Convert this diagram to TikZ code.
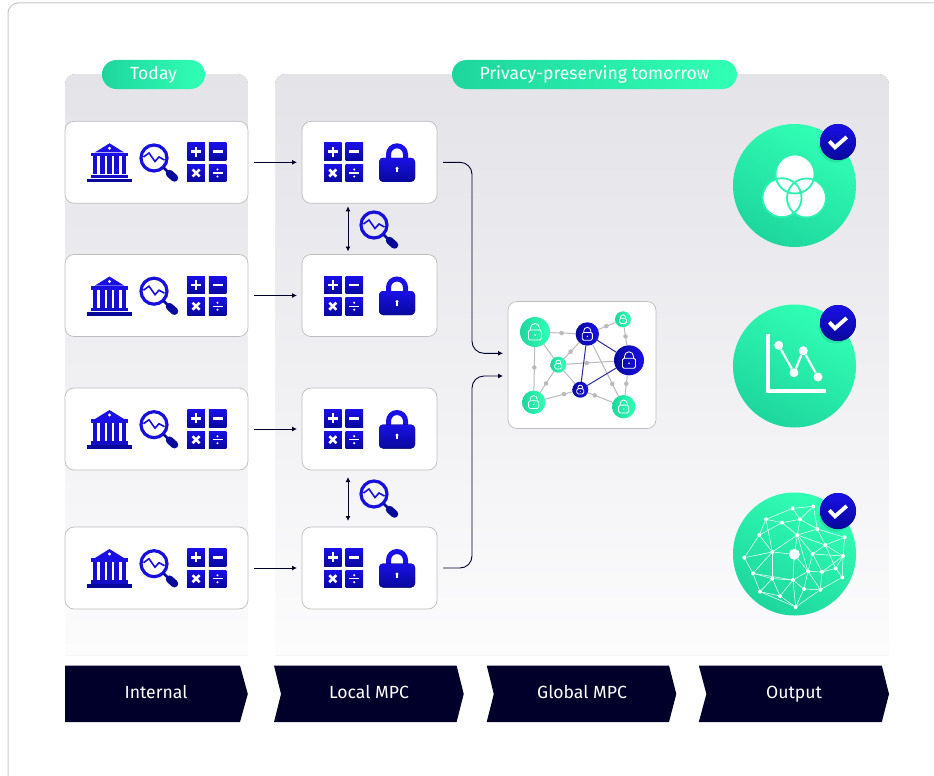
\documentclass[tikz,border=0pt]{standalone}
\usepackage{fontspec}
\setmainfont{Fira Sans}
\usetikzlibrary{arrows.meta}
\definecolor{panelgray}{HTML}{E3E3E8}
\definecolor{panelend}{HTML}{FCFCFD}
\definecolor{edgegray}{HTML}{BDBDBD}
\definecolor{framegray}{HTML}{C8C8C8}
\definecolor{mintlight}{HTML}{31FFB5}
\definecolor{mintdark}{HTML}{1ED69D}
\definecolor{iconlight}{HTML}{1A10E6}
\definecolor{icondark}{HTML}{08089C}
\definecolor{navy}{HTML}{00002B}
\definecolor{linkgray}{HTML}{B9B9BE}
\definecolor{linkblue}{HTML}{2A2A9E}
\tikzset{
  panel/.style={top color=panelgray, bottom color=panelend, draw=none},
  panelrim/.style={draw=white, line width=1.2, fill=none},
  card/.style={draw=edgegray, line width=.7, fill=white, rounded corners=9, inner sep=0, outer sep=0},
  pill/.style={rounded corners=14.5, left color=mintdark, right color=mintlight, text=white,
    minimum height=29, inner sep=0, text height=12.5, text depth=3.5, font=\fontsize{17.6}{20}\selectfont},
  conn/.style={draw=navy, line width=.9, -{Latex[length=5,width=5]}, shorten <=6, shorten >=5},
  connboth/.style={draw=navy, line width=.9, {Latex[length=5,width=5]}-{Latex[length=5,width=5]}},
  stage/.style={text=white, inner sep=0, text height=12.5, text depth=3.5, font=\fontsize{17.6}{20}\selectfont},
  greennode/.style={circle, inner sep=0, outer sep=0, left color=mintdark, right color=mintlight},
  bluenode/.style={circle, inner sep=0, outer sep=0, left color=icondark, right color=iconlight},
  netlink/.style={draw=linkgray, line width=1},
  netblue/.style={draw=linkblue, line width=1},
  netdot/.style={circle, fill=linkgray, inner sep=0, minimum size=4.5},
  meshdot/.style={circle, fill=white, inner sep=0, minimum size=4},
  bigmint/.style={shade, shading=axis, top color=mintlight, bottom color=mintdark, shading angle=-30},
  iconfill/.style={top color=iconlight, bottom color=icondark, draw=none},
  glyph/.style={draw=white, line width=2.6},
  bankicon/.pic={
    \fill[iconlight] (0,-19) -- (14.5,-10) -- (-14.5,-10) -- cycle;
    \fill[white] (0,-14) circle (1.6);
    \fill[iconlight] (-18.3,-9.7) rectangle (18.3,-6);
    \foreach \cx in {-14.4,-7.2,0,7.2,14.4} {\fill[iconlight!70!icondark] (\cx-2.3,-6) rectangle (\cx+2.3,12);}
    \fill[icondark!40!iconlight] (-18.3,12.3) rectangle (18.3,15.7);
    \fill[icondark] (-22.3,16.3) rectangle (22.3,20);
  },
  lensicon/.pic={
    \draw[iconlight!85!icondark, line width=3.2] (0,0) circle (13);
    \draw[iconlight!85!icondark, line width=1.6] (-10.5,-1) -- (-5,-5) -- (1,3.5) -- (5,-1) -- (10.5,2);
    \draw[icondark, line width=2.6] (9.5,9.5) -- (14,14);
    \draw[icondark, line width=7.5, line cap=round] (15.5,15.5) -- (20.5,20);
  },
  calcicon/.pic={
    \fill[iconfill] (-19.5,-19.5) rectangle (-2,-2);
    \fill[iconfill] (2,-19.5) rectangle (19.5,-2);
    \fill[iconfill] (-19.5,2) rectangle (-2,19.5);
    \fill[iconfill] (2,2) rectangle (19.5,19.5);
    \draw[glyph] (-15.7,-10.7) -- (-5.7,-10.7) (-10.7,-15.7) -- (-10.7,-5.7);
    \draw[glyph] (5.7,-10.7) -- (15.7,-10.7);
    \draw[glyph] (-14.2,7.2) -- (-7.2,14.2) (-14.2,14.2) -- (-7.2,7.2);
    \draw[white, line width=1.3] (5.7,10.7) -- (15.7,10.7);
    \fill[white] (10.7,7.2) circle (1.2) (10.7,14.2) circle (1.2);
  },
  lockicon/.pic={
    \draw[iconlight, line width=5] (-8.5,-3) -- (-8.5,-8) arc[start angle=180, end angle=360, radius=8.5] -- (8.5,-3);
    \fill[iconfill, rounded corners=4] (-18,-4.5) rectangle (18,19.5);
    \fill[white] (0,6) circle (1.7);
    \fill[white] (-.8,6) rectangle (.8,10);
  },
  netlock/.pic={
    \draw[white, line width=.8, rounded corners=1.5] (-6.5,-2) rectangle (6.5,8);
    \draw[white, line width=.8] (-4.5,-2) -- (-4.5,-4) arc[start angle=180, end angle=360, radius=4.5] -- (4.5,-2);
    \fill[white] (0,3) circle (.9);
  },
  badge/.pic={
    \fill[iconfill] (0,0) circle (18);
    \draw[white, line width=3.8] (-8.7,-.7) -- (-3,5.3) -- (8.7,-5);
  },
}
\begin{document}
\begin{tikzpicture}[x=1pt,y=-1pt]
\useasboundingbox (0,0) rectangle (934,776);
\draw[framegray, line width=1, rounded corners=10] (8,776) -- (8,3) -- (934,3);

% panels
\fill[panel] (65,655) [rounded corners=10] -- (65,74) -- (248,74) [sharp corners] -- (248,655) -- cycle;
\fill[panel] (275,655) [rounded corners=10] -- (275,74) -- (889,74) [sharp corners] -- (889,655) -- cycle;
\draw[panelrim] (64.4,656) [rounded corners=10.6] -- (64.4,73.4) -- (248.6,73.4) [sharp corners] -- (248.6,656) -- cycle;
\draw[panelrim] (274.4,656) [rounded corners=10.6] -- (274.4,73.4) -- (889.6,73.4) [sharp corners] -- (889.6,656) -- cycle;
\node[pill, minimum width=103] (today) at (153.5,74.5) {Today};
\node[pill, minimum width=285] (tomorrow) at (594.5,74.5) {Privacy-preserving tomorrow};

% rows
\foreach \rowid/\rowy in {1/162.3, 2/295.5, 3/429, 4/568} {
  \node[card, minimum width=183, minimum height=82] (left\rowid) at (156.5,\rowy) {};
  \node[card, minimum width=135, minimum height=82] (local\rowid) at (369.5,\rowy) {};
  \pic at ([xshift=-47]left\rowid.center) {bankicon};
  \pic at ([xshift=-2.5,yshift=4.3]left\rowid.center) {lensicon};
  \pic at ([xshift=50.3]left\rowid.center) {calcicon};
  \pic at ([xshift=-26]local\rowid.center) {calcicon};
  \pic at ([xshift=27.5]local\rowid.center) {lockicon};
  \draw[conn] (left\rowid) -- (local\rowid);
}
\draw[connboth] ([xshift=-21.5,yshift=-3]local1.south) -- ([xshift=-21.5,yshift=3]local2.north);
\draw[connboth] ([xshift=-21.5,yshift=-7]local3.south) -- ([xshift=-21.5,yshift=6]local4.north);
\pic at (374,225) {lensicon};
\pic at (374,494) {lensicon};

% global network
\node[card, minimum width=148, minimum height=127] (net) at (582,365) {};
\coordinate (trunk1) at (472,265);
\coordinate (trunk2) at (472,470);
\coordinate (netin1) at (508,353.3);
\coordinate (netin2) at (508,376);
\draw[conn, rounded corners=12] (local1) -| (trunk1) |- (netin1);
\draw[conn, rounded corners=12] (local4) -| (trunk2) |- (netin2);

\foreach \nid/\nx/\ny/\nsize/\nkind in {
  A/535/332/30/greennode, B/587.3/334/23.4/bluenode, C/623/319.3/16/greennode,
  D/558.3/364.7/16/greennode, E/629/360.3/30/bluenode, F/580.3/389.7/16/bluenode,
  G/533.7/402.3/23.4/greennode, H/623.7/406.7/23.4/greennode} {
  \node[\nkind, minimum size=\nsize] (\nid) at (\nx,\ny) {};
  \pic[scale=\nsize/30] at (\nid.center) {netlock};
}
\foreach \from/\to/\spot in {A/B/.45, B/C/.47, C/E/.5, A/G/.47, D/B/.44, D/E/.43, D/G/.57, G/F/.69, F/H/.28, B/H/.76, E/H/.43}
  \draw[netlink] (\from) -- node[netdot, pos=\spot] {} (\to);
\draw[netlink] (A) -- (D);
\draw[netlink] (D) -- (F);
\draw[netblue] (B) -- (E);
\draw[netblue] (B) -- (F);
\draw[netblue] (F) -- (E);

% outputs
\foreach \oid/\oy in {1/185.5, 2/366, 3/554} {
  \node[circle, inner sep=0, minimum size=123, outer sep=0, bigmint] (out\oid) at (794.5,\oy) {};
}
% venn
\fill[white] (795,174) circle (19.5) (782,197.7) circle (19.5) (806.5,198) circle (19.5);
\draw[mintlight!70!mintdark, line width=1.8] (795,174) circle (19.5) (782,197.7) circle (19.5) (806.5,198) circle (19.5);
% chart
\draw[white, line width=4] (768.3,334) -- (768.3,391) -- (826,391);
\node[circle, fill=white, inner sep=0, minimum size=9] (pt1) at (778.7,345.3) {};
\node[circle, fill=white, inner sep=0, minimum size=9] (pt2) at (794,372.7) {};
\node[circle, fill=white, inner sep=0, minimum size=9] (pt3) at (803.3,350.7) {};
\node[circle, fill=white, inner sep=0, minimum size=9] (pt4) at (818,377) {};
\draw[white, line width=2.2] (pt1) -- (pt2) -- (pt3) -- (pt4);
% mesh
\foreach \mid/\mx/\my in {a/218/85, b/280/79, c/138/118, d/186/128, e/240/118, f/292/147, g/118/165, h/232/165,
  i/374/172, j/316/195, k/157/216, l/278/222, m/369/228, n/73/233, o/99/280, p/264/274, q/306/276,
  r/347/265, s/367/292, t/157/296, u/219/300, v/252/327, w/301/329, x/120/335, y/180/348, z/227/381}
  \node[meshdot] (\mid) at ({720+\mx/3},{480+\my/3}) {};
\node[circle, fill=white, inner sep=0, minimum size=11] (hub) at ({720+223/3},{480+223/3}) {};
\foreach \from/\to in {a/b, a/c, a/e, b/e, b/f, c/d, c/g, c/k, d/e, d/h, d/g, e/h, e/f, f/i, f/h, f/j, g/n, g/k,
  h/k, h/hub, h/l, h/j, i/j, i/m, j/l, j/m, j/r, k/n, k/o, k/t, k/hub, l/p, l/m, l/q, m/q, m/r, m/s, n/o,
  o/t, o/x, o/u, t/u, t/x, t/y, u/p, u/v, u/y, u/z, p/q, p/v, p/w, q/r, q/w, r/s, s/w, v/w, v/z, w/z, x/y, y/z, x/z, hub/p, hub/u, h/p}
  \draw[white, line width=.5] (\from) -- (\to);
% badges
\foreach \oid/\by in {1/142, 2/323, 3/511} {
  \begin{scope}
    \clip (out\oid) circle (61.5);
    \fill[mintdark, opacity=.6] (836,\by+3.5) circle (17);
  \end{scope}
  \pic at (838,\by) {badge};
}

% stages
\fill[navy] (65,665.5) -- (240,665.5) -- (247.8,694) -- (240,722) -- (65,722) -- cycle;
\fill[navy] (274,665.5) -- (456.6,665.5) -- (463.7,694) -- (456.6,722) -- (274,722) -- (281,694) -- cycle;
\fill[navy] (486.7,665.5) -- (669,665.5) -- (676.3,694) -- (669,722) -- (486.7,722) -- (493.8,694) -- cycle;
\fill[navy] (698.8,665.5) -- (881.8,665.5) -- (889,694) -- (881.8,722) -- (698.8,722) -- (706.4,694) -- cycle;
\node[stage] (internal) at (156,693.5) {Internal};
\node[stage] (localmpc) at (369,693.5) {Local MPC};
\node[stage] (globalmpc) at (582,693.5) {Global MPC};
\node[stage] (output) at (794,693.5) {Output};
\end{tikzpicture}
\end{document}
